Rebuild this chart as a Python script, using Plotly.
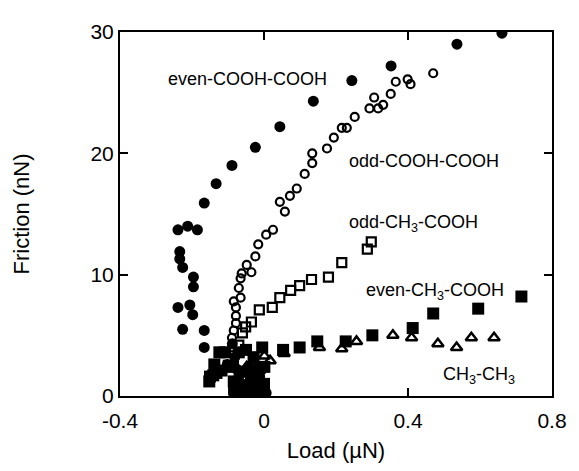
import plotly.graph_objects as go

# even-COOH-COOH (filled circles)
even_cooh_x = [0.661, 0.536, 0.353, 0.244, 0.137, 0.044, -0.024, -0.089, -0.133, -0.166,
               -0.212, -0.239, -0.185, -0.234, -0.234, -0.226, -0.196, -0.196, -0.239, -0.206,
               -0.198, -0.226, -0.166, -0.166,
               -0.102, -0.081, -0.070, -0.078, -0.048, -0.029, -0.021, -0.002, 0.006,
               -0.088, -0.060, -0.035, -0.012, -0.040, -0.075]
even_cooh_y = [29.9, 29.0, 27.2, 26.0, 24.3, 22.2, 20.5, 19.0, 17.5, 15.9,
               14.0, 13.7, 13.7, 11.9, 11.3, 10.6, 9.8, 9.0, 7.3, 7.5,
               6.7, 5.5, 5.4, 4.0,
               2.6, 3.2, 1.6, 0.55, 0.4, 1.2, 2.1, 1.0, 0.25,
               4.3, 0.2, 0.6, 1.6, 2.4, 2.2]

# odd-COOH-COOH (open circles)
odd_cooh_x = [0.470, 0.399, 0.407, 0.366, 0.352, 0.306, 0.331, 0.317, 0.293, 0.252,
              0.230, 0.216, 0.194, 0.175, 0.134, 0.134, 0.113, 0.091, 0.072, 0.044,
              0.058, 0.025, 0.006, -0.016, -0.024, -0.048, -0.035, -0.062, -0.065, -0.070,
              -0.065, -0.084, -0.078, -0.078, -0.078, -0.084, -0.089, -0.089]
odd_cooh_y = [26.6, 26.1, 25.7, 25.9, 24.9, 24.6, 24.0, 23.7, 23.7, 23.0,
              22.1, 22.1, 21.3, 20.4, 20.0, 19.2, 18.3, 17.1, 16.5, 16.0,
              15.2, 13.7, 13.3, 12.5, 11.5, 10.8, 10.2, 10.1, 9.7, 8.9,
              8.1, 7.8, 7.3, 6.6, 6.0, 5.4, 4.8, 4.0]

# odd-CH3-COOH (open squares)
odd_ch3_x = [0.298, 0.287, 0.216, 0.179, 0.132, 0.099, 0.074, 0.044, 0.023, -0.013,
             -0.035, -0.051, -0.060, -0.070, -0.084]
odd_ch3_y = [12.7, 12.1, 11.0, 9.8, 9.6, 9.1, 8.7, 8.1, 7.3, 7.1,
             6.1, 5.7, 5.2, 4.2, 0.55]

# even-CH3-COOH (filled squares)
even_ch3_x = [0.715, 0.595, 0.470, 0.413, 0.301, 0.227, 0.148, 0.099, 0.053,
              -0.124, -0.141, -0.152, -0.118, -0.070, -0.029, -0.005, -0.056, -0.016,
              -0.043, -0.007, -0.076, 0.001,
              -0.150, -0.132, -0.138, -0.108, -0.098, -0.086, -0.084, -0.082, -0.060,
              -0.036, -0.028, -0.012, 0.000, -0.050, -0.002]
even_ch3_y = [8.2, 7.2, 6.8, 5.6, 5.0, 4.5, 4.5, 4.0, 3.8,
              3.6, 1.7, 1.2, 2.1, 3.6, 3.2, 4.0, 2.0, 1.6,
              0.8, 0.5, 1.0, 2.4,
              1.6, 1.9, 2.6, 3.6, 2.5, 2.4, 1.2, 0.3, 0.9,
              1.8, 0.4, 2.3, 1.0, 3.8, 0.2]

# CH3-CH3 (open triangles)
ch3_ch3_x = [0.639, 0.576, 0.535, 0.483, 0.410, 0.358, 0.257, 0.216, 0.154, 0.056,
             0.017, 0.001, -0.048]
ch3_ch3_y = [4.8, 4.8, 4.0, 4.3, 4.8, 5.0, 4.5, 3.9, 4.0, 3.5,
             2.9, 3.3, 2.4]

labels = ['even-COOH-COOH', 'odd-COOH-COOH', 'odd-CH<sub>3</sub>-COOH',
          'even-CH<sub>3</sub>-COOH', 'CH<sub>3</sub>-CH<sub>3</sub>']
label_x = [-0.271, 0.230, 0.230, 0.277, 0.492]
label_y = [26.1, 19.4, 14.2, 8.6, 1.7]

FONT = 'Liberation Sans, Arial, sans-serif'

fig = go.Figure()
fig.add_trace(go.Scatter(x=odd_cooh_x, y=odd_cooh_y, mode='markers',
                         marker=dict(symbol='circle-open', size=8, color='black',
                                     line=dict(width=2.2, color='black'))))
fig.add_trace(go.Scatter(x=odd_ch3_x, y=odd_ch3_y, mode='markers',
                         marker=dict(symbol='square-open', size=9, color='black',
                                     line=dict(width=2.2, color='black'))))
fig.add_trace(go.Scatter(x=ch3_ch3_x, y=ch3_ch3_y, mode='markers',
                         marker=dict(symbol='triangle-up-open', size=10, color='black',
                                     line=dict(width=2.5, color='black'))))
fig.add_trace(go.Scatter(x=even_cooh_x, y=even_cooh_y, mode='markers',
                         marker=dict(symbol='circle', size=11, color='black')))
fig.add_trace(go.Scatter(x=even_ch3_x, y=even_ch3_y, mode='markers',
                         marker=dict(symbol='square', size=12, color='black')))

for txt, lx, ly in zip(labels, label_x, label_y):
    fig.add_annotation(x=lx, y=ly, text=txt, showarrow=False,
                       xanchor='left', yanchor='middle',
                       font=dict(family=FONT, size=18, color='black'))

axis_style = dict(showline=True, linecolor='black', linewidth=2, mirror='allticks',
                  ticks='inside', ticklen=8, tickwidth=2, tickcolor='black',
                  showgrid=False, zeroline=False,
                  tickfont=dict(family=FONT, size=21, color='black'))

fig.update_xaxes(range=[-0.4, 0.8], tickvals=[-0.4, 0, 0.4, 0.8],
                 ticktext=['-0.4', '0', '0.4', '0.8'], ticklabelstandoff=5,
                 title=dict(text='Load (µN)', font=dict(family=FONT, size=22, color='black'),
                            standoff=11),
                 **axis_style)
fig.update_yaxes(range=[0, 30], tickvals=[0, 10, 20, 30],
                 title=dict(text='Friction (nN)', font=dict(family=FONT, size=22, color='black'),
                            standoff=55),
                 **axis_style)

# the page body adds an 8px margin at top/left, so offsets are taken off here
fig.update_layout(width=571, height=463, showlegend=False,
                  margin=dict(l=111, r=20, t=19, b=66),
                  plot_bgcolor='white', paper_bgcolor='white')

fig.write_html("out.html")
